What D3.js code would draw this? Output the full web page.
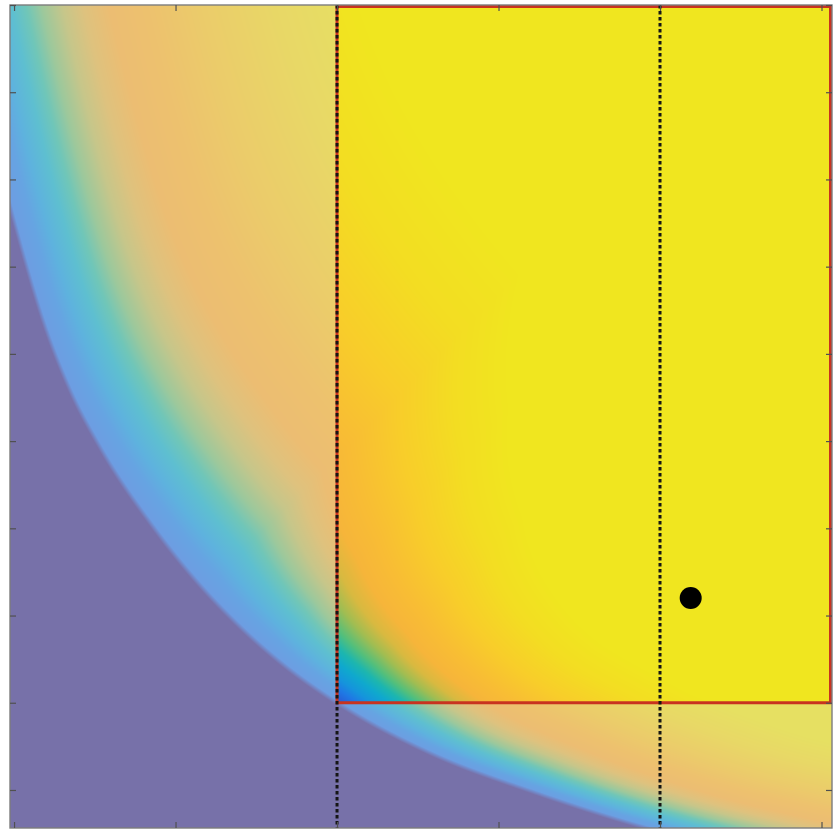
<!DOCTYPE html>
<html>
<head>
<meta charset="utf-8">
<script src="https://cdn.jsdelivr.net/npm/d3@7"></script>
<style>
  body { margin: 0; background: #ffffff; }
  #chart { position: relative; width: 835px; height: 832px; }
  #chart canvas, #chart svg { position: absolute; left: 0; top: 0; }
</style>
</head>
<body>
<div id="chart"></div>
<script>
// ---- axis extents and ticks ----
const xDomain = [-0.025, 5.065];
const yDomain = [0.564, 10];
const xTicks = [0, 1, 2, 3, 4, 5];
const yTicks = [1, 2, 3, 4, 5, 6, 7, 8, 9, 10];

// ---- front: lower boundary of the scored region ----
const frontX = [-0.551, -0.366, -0.211, -0.087, -0.025, 0.068, 0.179, 0.347, 0.532, 0.860, 1.152, 1.356, 1.647, 2.0, 2.576, 3.215, 3.876, 4.619, 5.486];
const frontY = [12.19, 10.47, 9.152, 8.165, 7.707, 7.071, 6.388, 5.586, 4.932, 4.021, 3.347, 2.949, 2.467, 2.0, 1.424, 0.977, 0.587, 0.243, -0.078];

// ---- how quickly the score rises, by position along the front ----
const gainY = [-0.1, 0.4, 0.8, 1.2, 1.6, 2.0, 2.6, 3.3, 12.2];
const gainV = [3.0, 3.0, 2.8, 2.5, 2.1, 1.7, 1.3, 1.0, 1.0];

// ---- colour levels (score, px-equivalent distance from the front) ----
const levelStops  = [0, 20, 35, 55, 72, 90, 114, 138, 168, 210, 275, 360, 450];
const vividColors = ["#2a56d2", "#1f78e4", "#1594dc", "#0fa9cd", "#1db6ae", "#52bf7c", "#a0bd52", "#d8b940", "#f6b53a", "#f8bd34", "#f8cd2a", "#f3dd22", "#f0e61f"];
const fadedColors = ["#6e9ce2", "#66a4e2", "#5eb2de", "#5ebfd0", "#70c6b8", "#9cc89c", "#c6c68a", "#dec27e", "#ecbd72", "#edc16e", "#ebcc6a", "#e8d866", "#e6e062"];
const floorColor  = "#7771a9";

// ---- reference corner, guide lines and candidate point ----
const refCorner = [2, 2];
const guideX = [2, 4];
const candidate = [4.19, 3.2];

// ---- layout ----
const W = 835, H = 832;
const plot = { left: 10, top: 5, right: 832, bottom: 828 };

const x = d3.scaleLinear().domain(xDomain).range([plot.left, plot.right]);
const y = d3.scaleLinear().domain(yDomain).range([plot.bottom, plot.top]);
const gainAt = d3.scaleLinear().domain(gainY).range(gainV).clamp(true);

const root = d3.select("#chart");

// ---- dense sampling of the smoothed front (screen space) ----
const scratch = root.append("svg").attr("width", 0).attr("height", 0)
  .style("position", "absolute").style("visibility", "hidden");
const frontPts = frontX.map((d, i) => [x(d), y(frontY[i])]);
const frontPath = scratch.append("path")
  .attr("d", d3.line().curve(d3.curveMonotoneX)(frontPts)).node();
const total = frontPath.getTotalLength();
const samples = [];
for (let s = 0; s <= total; s += 0.5) {
  const p = frontPath.getPointAtLength(s);
  samples.push({ u: p.x + p.y, v: p.x - p.y, g: gainAt(y.invert(p.y)) });
}
scratch.remove();

// lookup tables indexed by u = X + Y (the diagonal coordinate)
const uMin = Math.floor(samples[0].u), uMax = Math.ceil(samples[samples.length - 1].u);
const nU = uMax - uMin + 1;
const vTab = new Float32Array(nU), gTab = new Float32Array(nU);
{
  const uArr = samples.map(d => d.u);
  const vs = d3.scaleLinear().domain(uArr).range(samples.map(d => d.v)).clamp(true);
  const gs = d3.scaleLinear().domain(uArr).range(samples.map(d => d.g)).clamp(true);
  for (let i = 0; i < nU; i++) { vTab[i] = vs(uMin + i); gTab[i] = gs(uMin + i); }
}

function makeLUT(colors, n, maxLevel) {
  const s = d3.scaleLinear().domain(levelStops).range(colors)
    .interpolate(d3.interpolateRgb).clamp(true);
  const lut = new Uint8ClampedArray(n * 3);
  for (let i = 0; i < n; i++) {
    const c = d3.rgb(s(i / (n - 1) * maxLevel));
    lut[i * 3] = c.r; lut[i * 3 + 1] = c.g; lut[i * 3 + 2] = c.b;
  }
  return lut;
}
const N = 2048;
const maxLevel = levelStops[levelStops.length - 1];
const vividLUT = makeLUT(vividColors, N, maxLevel);
const fadedLUT = makeLUT(fadedColors, N, maxLevel);
const floorRGB = d3.rgb(floorColor);

// ---- heat field on a canvas ----
const canvas = root.append("canvas").attr("width", W).attr("height", H).node();
const ctx = canvas.getContext("2d");
const img = ctx.createImageData(W, H);
const px = img.data;

const rectLeft = x(refCorner[0]);
const rectBottom = y(refCorner[1]);

for (let Y = plot.top; Y < plot.bottom; Y++) {
  const cy = Y + 0.5;
  for (let X = plot.left; X < plot.right; X++) {
    const cx = X + 0.5;
    let iu = Math.round(cx + cy) - uMin;
    iu = Math.max(0, Math.min(nU - 1, iu));
    const d = (cx - cy - vTab[iu]) / Math.SQRT2;
    const level = Math.max(0, d) * gTab[iu];
    const inside = cx >= rectLeft && cy <= rectBottom;
    const lut = inside ? vividLUT : fadedLUT;
    const k = Math.min(N - 1, Math.round(level / maxLevel * (N - 1))) * 3;
    let r = lut[k], g = lut[k + 1], b = lut[k + 2];
    const edge = Math.max(0, Math.min(1, (d + 2.5) / 5));
    r = floorRGB.r + (r - floorRGB.r) * edge;
    g = floorRGB.g + (g - floorRGB.g) * edge;
    b = floorRGB.b + (b - floorRGB.b) * edge;
    const o = (Y * W + X) * 4;
    px[o] = r; px[o + 1] = g; px[o + 2] = b; px[o + 3] = 255;
  }
}
ctx.putImageData(img, 0, 0);

// ---- vector overlay ----
const svg = root.append("svg").attr("width", W).attr("height", H);

// red rectangle: region dominating the reference corner
svg.append("rect")
  .attr("x", x(refCorner[0]))
  .attr("y", plot.top + 1.5)
  .attr("width", plot.right - x(refCorner[0]) - 1.5)
  .attr("height", y(refCorner[1]) - plot.top - 1.5)
  .attr("fill", "none")
  .attr("stroke", "#c8331f")
  .attr("stroke-width", 3);

// dotted guides
svg.selectAll("line.guide").data(guideX).join("line")
  .attr("class", "guide")
  .attr("x1", d => x(d)).attr("x2", d => x(d))
  .attr("y1", plot.top).attr("y2", plot.bottom)
  .attr("stroke", "#151515")
  .attr("stroke-width", 3)
  .attr("stroke-dasharray", "3.5,2.5");

// candidate point
svg.append("circle")
  .attr("cx", x(candidate[0])).attr("cy", y(candidate[1]))
  .attr("r", 11).attr("fill", "#000");

// frame
svg.append("rect")
  .attr("x", plot.left).attr("y", plot.top)
  .attr("width", plot.right - plot.left).attr("height", plot.bottom - plot.top)
  .attr("fill", "none").attr("stroke", "#7d7d7d").attr("stroke-width", 1.4);

// inward ticks on all four sides
const tickLen = 6;
const axes = [
  d3.axisBottom(x).tickValues(xTicks).tickSizeInner(-tickLen).tickSizeOuter(0).tickFormat(""),
  d3.axisTop(x).tickValues(xTicks).tickSizeInner(-tickLen).tickSizeOuter(0).tickFormat(""),
  d3.axisLeft(y).tickValues(yTicks).tickSizeInner(-tickLen).tickSizeOuter(0).tickFormat(""),
  d3.axisRight(y).tickValues(yTicks).tickSizeInner(-tickLen).tickSizeOuter(0).tickFormat("")
];
const offs = [
  `translate(0,${plot.bottom})`, `translate(0,${plot.top})`,
  `translate(${plot.left},0)`, `translate(${plot.right},0)`
];
axes.forEach((a, i) => {
  const g = svg.append("g").attr("transform", offs[i]).call(a);
  g.select(".domain").remove();
  g.selectAll(".tick line").attr("stroke", "#505050").attr("stroke-width", 1.2);
});
</script>
</body>
</html>
